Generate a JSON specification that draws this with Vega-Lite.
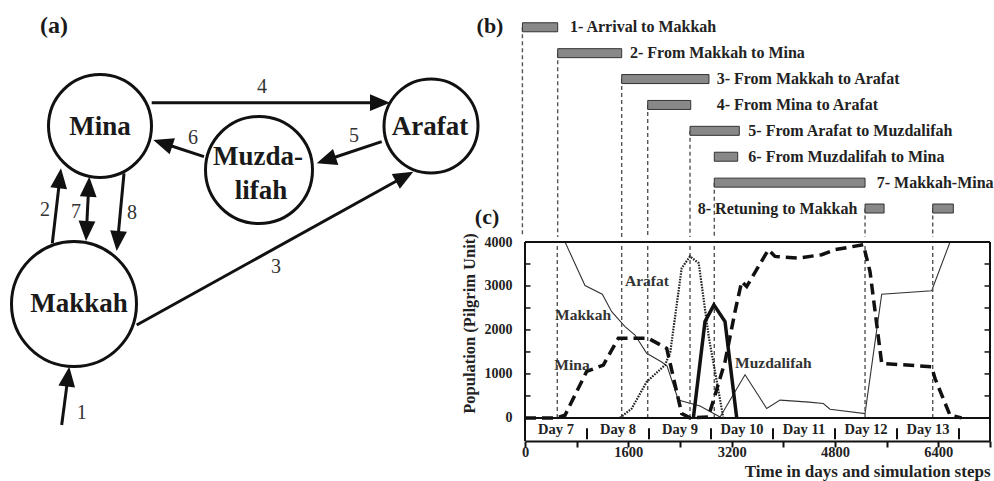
{
  "$schema": "https://vega.github.io/schema/vega-lite/v6.json",
  "background": "white",
  "padding": 0,
  "bounds": "flush",
  "spacing": 0,
  "config": {
    "font": "Liberation Serif",
    "view": {"stroke": null},
    "text": {"font": "Liberation Serif", "color": "#1e1e1e"}
  },
  "datasets": {
    "nodes": [
      {"name": "Mina", "x": 100, "y": 126},
      {"name": "Arafat", "x": 431, "y": 126},
      {"name": "Muzdalifah", "x": 259, "y": 170},
      {"name": "Makkah", "x": 74, "y": 304}
    ],
    "nodeLabels": [
      {"label": "Mina", "x": 100, "y": 127},
      {"label": "Arafat", "x": 430, "y": 127},
      {"label": "Muzda-", "x": 258, "y": 157},
      {"label": "lifah", "x": 261, "y": 191},
      {"label": "Makkah", "x": 79, "y": 304}
    ],
    "arrows": [
      {"id": "1", "x1": 61.7, "y1": 425, "x2": 69.3, "y2": 366.7},
      {"id": "2", "x1": 52.3, "y1": 243.3, "x2": 61, "y2": 168.3},
      {"id": "7a", "x1": 87.6, "y1": 208, "x2": 89.3, "y2": 176.7},
      {"id": "7b", "x1": 87.6, "y1": 208, "x2": 86, "y2": 241},
      {"id": "8", "x1": 124, "y1": 173.3, "x2": 116.7, "y2": 251},
      {"id": "4", "x1": 151.7, "y1": 102.7, "x2": 390, "y2": 102.7},
      {"id": "5", "x1": 381.7, "y1": 141.7, "x2": 316.7, "y2": 163.3},
      {"id": "6", "x1": 204, "y1": 156.7, "x2": 153.3, "y2": 140},
      {"id": "3", "x1": 136.7, "y1": 325, "x2": 413.3, "y2": 171.7}
    ],
    "arrowNums": [
      {"n": "1", "x": 81.7, "y": 413},
      {"n": "2", "x": 45, "y": 210},
      {"n": "7", "x": 76, "y": 212},
      {"n": "8", "x": 132, "y": 213},
      {"n": "4", "x": 262, "y": 87},
      {"n": "5", "x": 354, "y": 136},
      {"n": "6", "x": 193, "y": 138},
      {"n": "3", "x": 276, "y": 267}
    ],
    "tasks": [
      {"task": "1", "t": -40, "t2": 506, "row": 1},
      {"task": "2", "t": 506, "t2": 1497, "row": 2},
      {"task": "3", "t": 1497, "t2": 2849, "row": 3},
      {"task": "4", "t": 1900, "t2": 2566, "row": 4},
      {"task": "5", "t": 2555, "t2": 3318, "row": 5},
      {"task": "6", "t": 2931, "t2": 3293, "row": 6},
      {"task": "7", "t": 2931, "t2": 5265, "row": 7},
      {"task": "8", "t": 5265, "t2": 5560, "row": 8},
      {"task": "8", "t": 6313, "t2": 6632, "row": 8}
    ],
    "taskLabels": [
      {"task": "1", "label": "1- Arrival to Makkah", "t": 697, "row": 1},
      {"task": "2", "label": "2- From Makkah to Mina", "t": 1626, "row": 2},
      {"task": "3", "label": "3- From Makkah to Arafat", "t": 2968, "row": 3},
      {"task": "4", "label": "4- From Mina to Arafat", "t": 2968, "row": 4},
      {"task": "5", "label": "5- From Arafat to Muzdalifah", "t": 3458, "row": 5},
      {"task": "6", "label": "6- From Muzdalifah to Mina", "t": 3458, "row": 6},
      {"task": "7", "label": "7- Makkah-Mina", "t": 5446, "row": 7},
      {"task": "8", "label": "8- Retuning to Makkah", "t": 5146, "row": 8}
    ],
    "panelLabels": [
      {"label": "(b)", "t": -542, "row": 0.95},
      {"label": "(c)", "t": -588, "row": 8.32}
    ],
    "guides": [{"t": 0}, {"t": 500}, {"t": 1497}, {"t": 1900}, {"t": 2555}, {"t": 2931}, {"t": 5265}, {"t": 6313}],
    "days": [
      {"t": 480, "day": "Day 7"}, {"t": 1440, "day": "Day 8"}, {"t": 2400, "day": "Day 9"},
      {"t": 3360, "day": "Day 10"}, {"t": 4320, "day": "Day 11"}, {"t": 5280, "day": "Day 12"},
      {"t": 6240, "day": "Day 13"}
    ],
    "dayBounds": [{"t": 960}, {"t": 1920}, {"t": 2880}, {"t": 3840}, {"t": 4800}, {"t": 5760}, {"t": 6720}],
    "yticks": [{"v": 500}, {"v": 1000}, {"v": 1500}, {"v": 2000}, {"v": 2500}, {"v": 3000}, {"v": 3500}],
    "pop": [
      {"s": "Makkah", "t": 0, "v": 4000}, {"s": "Makkah", "t": 620, "v": 4000}, {"s": "Makkah", "t": 929, "v": 3010},
      {"s": "Makkah", "t": 1197, "v": 2814}, {"s": "Makkah", "t": 1342, "v": 2415}, {"s": "Makkah", "t": 1549, "v": 2074},
      {"s": "Makkah", "t": 1703, "v": 1885}, {"s": "Makkah", "t": 1884, "v": 1469}, {"s": "Makkah", "t": 2116, "v": 1270},
      {"s": "Makkah", "t": 2200, "v": 1180}, {"s": "Makkah", "t": 2374, "v": 407}, {"s": "Makkah", "t": 2710, "v": 270},
      {"s": "Makkah", "t": 3020, "v": 20}, {"s": "Makkah", "t": 3407, "v": 980}, {"s": "Makkah", "t": 3742, "v": 214},
      {"s": "Makkah", "t": 3949, "v": 404}, {"s": "Makkah", "t": 4400, "v": 360}, {"s": "Makkah", "t": 4619, "v": 328},
      {"s": "Makkah", "t": 4723, "v": 198}, {"s": "Makkah", "t": 5265, "v": 100}, {"s": "Makkah", "t": 5523, "v": 2814},
      {"s": "Makkah", "t": 6297, "v": 2890}, {"s": "Makkah", "t": 6581, "v": 4000}, {"s": "Makkah", "t": 6760, "v": 4000},
      {"s": "Arafat", "t": 1471, "v": 0}, {"s": "Arafat", "t": 1652, "v": 213}, {"s": "Arafat", "t": 1884, "v": 821},
      {"s": "Arafat", "t": 2168, "v": 1202}, {"s": "Arafat", "t": 2250, "v": 1500}, {"s": "Arafat", "t": 2426, "v": 3406},
      {"s": "Arafat", "t": 2555, "v": 3672}, {"s": "Arafat", "t": 2690, "v": 3520}, {"s": "Arafat", "t": 2850, "v": 1800},
      {"s": "Arafat", "t": 3071, "v": 0},
      {"s": "Mina", "t": 0, "v": 0}, {"s": "Mina", "t": 490, "v": 0}, {"s": "Mina", "t": 619, "v": 60},
      {"s": "Mina", "t": 955, "v": 1057}, {"s": "Mina", "t": 1213, "v": 1202}, {"s": "Mina", "t": 1445, "v": 1810},
      {"s": "Mina", "t": 1910, "v": 1810}, {"s": "Mina", "t": 2194, "v": 1582}, {"s": "Mina", "t": 2426, "v": 100},
      {"s": "Mina", "t": 2555, "v": 0}, {"s": "Mina", "t": 2839, "v": 23}, {"s": "Mina", "t": 2942, "v": 517},
      {"s": "Mina", "t": 3097, "v": 1277}, {"s": "Mina", "t": 3252, "v": 2417}, {"s": "Mina", "t": 3355, "v": 3101},
      {"s": "Mina", "t": 3433, "v": 2988}, {"s": "Mina", "t": 3768, "v": 3825}, {"s": "Mina", "t": 3871, "v": 3672},
      {"s": "Mina", "t": 4233, "v": 3635}, {"s": "Mina", "t": 4594, "v": 3711}, {"s": "Mina", "t": 4800, "v": 3825},
      {"s": "Mina", "t": 5239, "v": 3939}, {"s": "Mina", "t": 5342, "v": 3330}, {"s": "Mina", "t": 5523, "v": 1240},
      {"s": "Mina", "t": 6297, "v": 1164}, {"s": "Mina", "t": 6348, "v": 898}, {"s": "Mina", "t": 6581, "v": 60},
      {"s": "Mina", "t": 6760, "v": 0},
      {"s": "Muzdalifah", "t": 2607, "v": 0}, {"s": "Muzdalifah", "t": 2787, "v": 2190}, {"s": "Muzdalifah", "t": 2925, "v": 2570},
      {"s": "Muzdalifah", "t": 3097, "v": 2190}, {"s": "Muzdalifah", "t": 3278, "v": 0}
    ],
    "seriesLabels": [
      {"label": "Makkah", "t": 465, "v": 2340},
      {"label": "Mina", "t": 454, "v": 1203},
      {"label": "Arafat", "t": 1548, "v": 3113},
      {"label": "Muzdalifah", "t": 3252, "v": 1248}
    ]
  },
  "hconcat": [
    {
      "width": 525,
      "height": 481,
      "layer": [
        {
          "data": {"name": "nodes"},
          "transform": [{"filter": "datum.name === 'Mina'"}],
          "mark": {"type": "point", "shape": "circle", "filled": false, "stroke": "#111", "strokeWidth": 3, "opacity": 1, "size": 10609},
          "encoding": {
            "x": {"field": "x", "type": "quantitative", "scale": {"domain": [0, 525], "nice": false, "zero": false}, "axis": null},
            "y": {"field": "y", "type": "quantitative", "scale": {"domain": [0, 481], "nice": false, "zero": false, "reverse": true}, "axis": null}
          }
        },
        {
          "data": {"name": "nodes"},
          "transform": [{"filter": "datum.name === 'Arafat'"}],
          "mark": {"type": "point", "shape": "circle", "filled": false, "stroke": "#111", "strokeWidth": 3, "opacity": 1, "size": 8836},
          "encoding": {
            "x": {"field": "x", "type": "quantitative", "axis": null},
            "y": {"field": "y", "type": "quantitative", "axis": null}
          }
        },
        {
          "data": {"name": "nodes"},
          "transform": [{"filter": "datum.name === 'Muzdalifah'"}],
          "mark": {"type": "point", "shape": "circle", "filled": false, "stroke": "#111", "strokeWidth": 3, "opacity": 1, "size": 11449},
          "encoding": {
            "x": {"field": "x", "type": "quantitative", "axis": null},
            "y": {"field": "y", "type": "quantitative", "axis": null}
          }
        },
        {
          "data": {"name": "nodes"},
          "transform": [{"filter": "datum.name === 'Makkah'"}],
          "mark": {"type": "point", "shape": "circle", "filled": false, "stroke": "#111", "strokeWidth": 3, "opacity": 1, "size": 15625},
          "encoding": {
            "x": {"field": "x", "type": "quantitative", "axis": null},
            "y": {"field": "y", "type": "quantitative", "axis": null}
          }
        },
        {
          "data": {"name": "nodeLabels"},
          "mark": {"type": "text", "fontWeight": "bold", "fontSize": 27, "align": "center", "baseline": "middle", "color": "#1a1a1a"},
          "encoding": {
            "x": {"field": "x", "type": "quantitative", "axis": null},
            "y": {"field": "y", "type": "quantitative", "axis": null},
            "text": {"field": "label"}
          }
        },
        {
          "data": {"name": "arrows"},
          "transform": [
            {"calculate": "datum.x2 - datum.x1", "as": "dx"},
            {"calculate": "datum.y2 - datum.y1", "as": "dy"},
            {"calculate": "sqrt(datum.dx*datum.dx + datum.dy*datum.dy)", "as": "len"},
            {"calculate": "datum.x2 - datum.dx/datum.len*12", "as": "ex"},
            {"calculate": "datum.y2 - datum.dy/datum.len*12", "as": "ey"}
          ],
          "mark": {"type": "rule", "strokeWidth": 3, "color": "#111"},
          "encoding": {
            "x": {"field": "x1", "type": "quantitative", "axis": null},
            "y": {"field": "y1", "type": "quantitative", "axis": null},
            "x2": {"field": "ex"},
            "y2": {"field": "ey"}
          }
        },
        {
          "data": {"name": "arrows"},
          "transform": [
            {"calculate": "atan2(datum.x2 - datum.x1, -(datum.y2 - datum.y1)) * 180 / PI", "as": "ang"}
          ],
          "mark": {"type": "point", "shape": "M0,0L-0.42,1L0.42,1Z", "filled": true, "color": "#111", "size": 1600, "opacity": 1},
          "encoding": {
            "x": {"field": "x2", "type": "quantitative", "axis": null},
            "y": {"field": "y2", "type": "quantitative", "axis": null},
            "angle": {"field": "ang", "type": "quantitative", "scale": null}
          }
        },
        {
          "data": {"name": "arrowNums"},
          "mark": {"type": "text", "fontSize": 20, "align": "center", "baseline": "middle", "color": "#333"},
          "encoding": {
            "x": {"field": "x", "type": "quantitative", "axis": null},
            "y": {"field": "y", "type": "quantitative", "axis": null},
            "text": {"field": "n"}
          }
        },
        {
          "data": {"values": [{"label": "(a)", "x": 54, "y": 26}]},
          "mark": {"type": "text", "fontSize": 24, "fontWeight": "bold", "align": "center", "baseline": "middle", "color": "#1a1a1a"},
          "encoding": {
            "x": {"field": "x", "type": "quantitative", "axis": null},
            "y": {"field": "y", "type": "quantitative", "axis": null},
            "text": {"field": "label"}
          }
        }
      ]
    },
    {
      "vconcat": [
        {
          "width": 465,
          "height": 242,
          "layer": [
            {
              "data": {"name": "tasks"},
              "transform": [{"filter": "datum.task !== '6'"}],
              "mark": {"type": "rule", "strokeDash": [4, 3], "strokeWidth": 1.4, "color": "#555"},
              "encoding": {
                "x": {"field": "t", "type": "quantitative", "scale": {"domain": [0, 7200], "nice": false, "zero": false}, "axis": null},
                "y": {"field": "row", "type": "quantitative", "scale": {"domain": [0.14, 9.1], "reverse": true, "nice": false, "zero": false}, "axis": null},
                "y2": {"datum": 9.1}
              }
            },
            {
              "data": {"name": "tasks"},
              "mark": {"type": "bar", "orient": "horizontal", "height": 9, "fill": "#888888", "stroke": "#333333", "strokeWidth": 1},
              "encoding": {
                "x": {"field": "t", "type": "quantitative", "axis": null},
                "x2": {"field": "t2"},
                "y": {"field": "row", "type": "quantitative", "axis": null}
              }
            },
            {
              "data": {"name": "taskLabels"},
              "transform": [{"filter": "datum.task !== '8'"}],
              "mark": {"type": "text", "align": "left", "baseline": "middle", "fontWeight": "bold", "fontSize": 16, "color": "#222"},
              "encoding": {
                "x": {"field": "t", "type": "quantitative", "axis": null},
                "y": {"field": "row", "type": "quantitative", "axis": null},
                "text": {"field": "label"}
              }
            },
            {
              "data": {"name": "taskLabels"},
              "transform": [{"filter": "datum.task === '8'"}],
              "mark": {"type": "text", "align": "right", "baseline": "middle", "fontWeight": "bold", "fontSize": 16, "color": "#222"},
              "encoding": {
                "x": {"field": "t", "type": "quantitative", "axis": null},
                "y": {"field": "row", "type": "quantitative", "axis": null},
                "text": {"field": "label"}
              }
            },
            {
              "data": {"name": "panelLabels"},
              "mark": {"type": "text", "align": "center", "baseline": "middle", "fontWeight": "bold", "fontSize": 22, "color": "#1a1a1a"},
              "encoding": {
                "x": {"field": "t", "type": "quantitative", "axis": null},
                "y": {"field": "row", "type": "quantitative", "axis": null},
                "text": {"field": "label"}
              }
            }
          ]
        },
        {
          "width": 465,
          "height": 199,
          "layer": [
            {
              "data": {"name": "pop"},
              "transform": [{"filter": "datum.s === 'Makkah'"}],
              "mark": {"type": "line", "strokeWidth": 1.1, "color": "#333"},
              "encoding": {
                "x": {
                  "field": "t", "type": "quantitative",
                  "scale": {"domain": [0, 7200], "nice": false, "zero": false},
                  "axis": {
                    "values": [0, 800, 1600, 2400, 3200, 4000, 4800, 5600, 6400, 7200],
                    "labelExpr": "datum.value % 1600 === 0 && datum.value <= 6400 ? datum.label : ''",
                    "format": "d",
                    "grid": false,
                    "tickSize": 6, "tickWidth": 2, "tickColor": "#111",
                    "domainColor": "#111", "domainWidth": 2,
                    "labelFont": "Liberation Serif", "labelFontWeight": "bold", "labelFontSize": 14.5, "labelColor": "#222",
                    "labelPadding": -2, "labelFlush": false, "labelOverlap": false,
                    "title": "Time in days and simulation steps",
                    "titleFont": "Liberation Serif", "titleFontWeight": "bold", "titleFontSize": 17, "titleColor": "#222",
                    "titleAnchor": "end", "titleBaseline": "alphabetic", "titleY": 35.5
                  }
                },
                "y": {
                  "field": "v", "type": "quantitative",
                  "scale": {"domain": [-525, 4000], "nice": false, "zero": false},
                  "axis": {
                    "values": [0, 1000, 2000, 3000, 4000],
                    "format": "d",
                    "grid": false, "ticks": false, "domain": false,
                    "labelFont": "Liberation Serif", "labelFontWeight": "bold", "labelFontSize": 14, "labelColor": "#222",
                    "labelPadding": 13,
                    "title": "Population (Pilgrim Unit)",
                    "titleFont": "Liberation Serif", "titleFontWeight": "bold", "titleFontSize": 16.5, "titleColor": "#222",
                    "titlePadding": 7, "titleY": 81
                  }
                }
              }
            },
            {
              "data": {"name": "guides"},
              "mark": {"type": "rule", "strokeDash": [4, 3], "strokeWidth": 1.4, "color": "#555"},
              "encoding": {
                "x": {"field": "t", "type": "quantitative"},
                "y": {"datum": 0},
                "y2": {"datum": 4000}
              }
            },
            {
              "data": {"values": [{"v": 0}, {"v": 4000}]},
              "mark": {"type": "rule", "strokeWidth": 2, "color": "#111"},
              "encoding": {
                "x": {"datum": 0},
                "x2": {"datum": 7200},
                "y": {"field": "v", "type": "quantitative"}
              }
            },
            {
              "data": {"values": [{"t": 0}, {"t": 7200}]},
              "mark": {"type": "rule", "strokeWidth": 2, "color": "#111"},
              "encoding": {
                "x": {"field": "t", "type": "quantitative"},
                "y": {"datum": -525},
                "y2": {"datum": 4000}
              }
            },
            {
              "data": {"name": "yticks"},
              "mark": {"type": "rule", "strokeWidth": 1.5, "color": "#111"},
              "encoding": {
                "x": {"datum": 0},
                "x2": {"datum": 85},
                "y": {"field": "v", "type": "quantitative"}
              }
            },
            {
              "data": {"name": "yticks"},
              "mark": {"type": "rule", "strokeWidth": 1.5, "color": "#111"},
              "encoding": {
                "x": {"datum": 7115},
                "x2": {"datum": 7200},
                "y": {"field": "v", "type": "quantitative"}
              }
            },
            {
              "data": {"name": "dayBounds"},
              "mark": {"type": "rule", "strokeWidth": 2, "color": "#111"},
              "encoding": {
                "x": {"field": "t", "type": "quantitative"},
                "y": {"datum": -237},
                "y2": {"datum": -487}
              }
            },
            {
              "data": {"name": "days"},
              "mark": {"type": "text", "align": "center", "baseline": "middle", "fontWeight": "bold", "fontSize": 14.5, "color": "#222"},
              "encoding": {
                "x": {"field": "t", "type": "quantitative"},
                "y": {"datum": -265},
                "text": {"field": "day"}
              }
            },
            {
              "data": {"name": "pop"},
              "transform": [{"filter": "datum.s === 'Arafat'"}],
              "mark": {"type": "line", "strokeWidth": 2.2, "strokeDash": [1.6, 1.2], "color": "#222"},
              "encoding": {
                "x": {"field": "t", "type": "quantitative"},
                "y": {"field": "v", "type": "quantitative"}
              }
            },
            {
              "data": {"name": "pop"},
              "transform": [{"filter": "datum.s === 'Muzdalifah'"}],
              "mark": {"type": "line", "strokeWidth": 3.5, "color": "#111"},
              "encoding": {
                "x": {"field": "t", "type": "quantitative"},
                "y": {"field": "v", "type": "quantitative"}
              }
            },
            {
              "data": {"name": "pop"},
              "transform": [{"filter": "datum.s === 'Mina'"}],
              "mark": {"type": "line", "strokeWidth": 3.5, "strokeDash": [11, 6], "color": "#111"},
              "encoding": {
                "x": {"field": "t", "type": "quantitative"},
                "y": {"field": "v", "type": "quantitative"}
              }
            },
            {
              "data": {"name": "seriesLabels"},
              "mark": {"type": "text", "align": "left", "baseline": "middle", "fontWeight": "bold", "fontSize": 15.5, "color": "#333"},
              "encoding": {
                "x": {"field": "t", "type": "quantitative"},
                "y": {"field": "v", "type": "quantitative"},
                "text": {"field": "label"}
              }
            }
          ]
        }
      ],
      "spacing": 0,
      "bounds": "flush"
    }
  ]
}
